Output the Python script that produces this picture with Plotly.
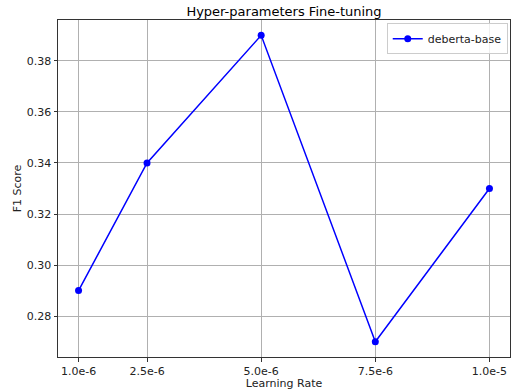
import plotly.graph_objects as go

learning_rates = [1.0e-6, 2.5e-6, 5.0e-6, 7.5e-6, 1.0e-5]
tick_labels = ["1.0e-6", "2.5e-6", "5.0e-6", "7.5e-6", "1.0e-5"]
f1_scores = [0.29, 0.34, 0.39, 0.27, 0.33]
y_ticks = [0.28, 0.30, 0.32, 0.34, 0.36, 0.38]

font = "DejaVu Sans"
fig = go.Figure()
fig.add_trace(go.Scatter(
    x=learning_rates, y=f1_scores, mode="lines+markers", name="deberta-base",
    line=dict(color="#0000ff", width=1.5),
    marker=dict(color="#0000ff", size=7),
))

axis_common = dict(
    showline=True, linecolor="#333333", linewidth=1, mirror=True,
    showgrid=True, gridcolor="#b0b0b0", gridwidth=1,
    ticks="outside", ticklen=3.5, tickcolor="#333333", tickwidth=1,
    zeroline=False, tickfont=dict(family=font, size=11, color="#222222"),
)
fig.update_xaxes(
    range=[0.55e-6, 10.45e-6], tickvals=learning_rates, ticktext=tick_labels,
    title=dict(text="Learning Rate", font=dict(family=font, size=11, color="#222222"), standoff=5),
    **axis_common,
)
fig.update_yaxes(
    range=[0.264, 0.396], tickvals=y_ticks, ticktext=[f"{v:.2f}" for v in y_ticks],
    title=dict(text="F1 Score", font=dict(family=font, size=11, color="#222222"), standoff=2),
    **axis_common,
)
fig.update_layout(
    width=511, height=390,
    margin=dict(l=58, r=1, t=20, b=33),
    paper_bgcolor="white", plot_bgcolor="white",
    title=dict(text="Hyper-parameters Fine-tuning", x=(58 + 510) / 2 / 511, xanchor="center",
               y=1 - 11 / 390, yanchor="middle", font=dict(family=font, size=13, color="#000000")),
    showlegend=True,
    legend=dict(x=0.995, xanchor="right", y=0.99, yanchor="top",
                bgcolor="rgba(255,255,255,0.8)", bordercolor="#cccccc", borderwidth=1,
                font=dict(family=font, size=11, color="#222222"), itemwidth=30,
                tracegroupgap=0),
)
fig.write_html("out.html", config={"displayModeBar": False},
               post_script="document.body.style.margin='0';")
